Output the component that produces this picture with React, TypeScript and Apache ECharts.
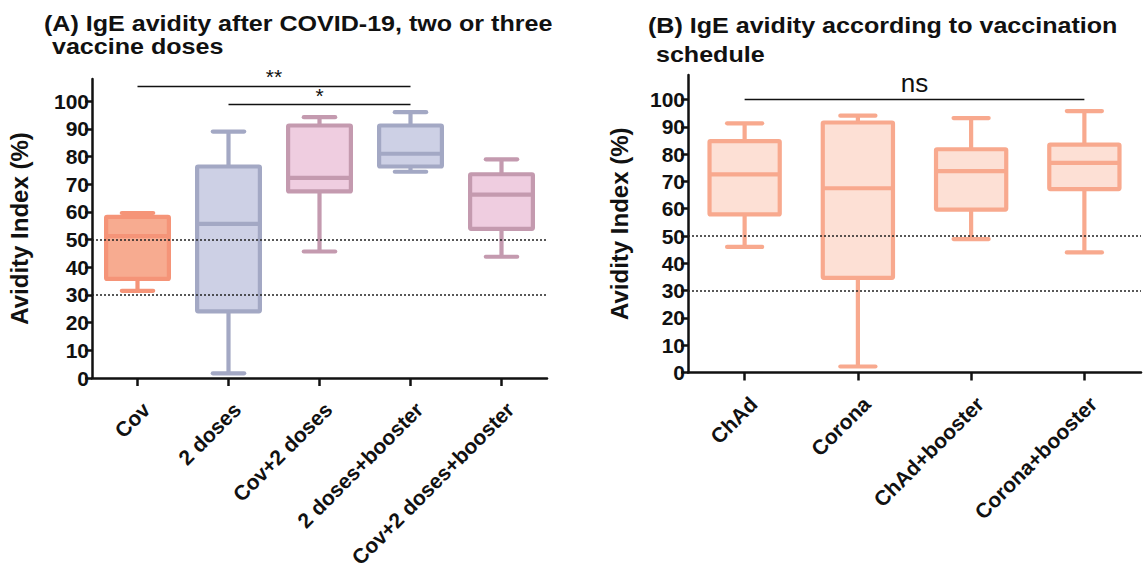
import React, { useEffect, useRef } from "react";
import * as echarts from "echarts";

// ---------- Data ----------
const catsA = ["Cov", "2 doses", "Cov+2 doses", "2 doses+booster", "Cov+2 doses+booster"];
const minA = [31.5, 1.7, 45.7, 74.5, 43.8];
const q1A = [35.8, 24.1, 67.4, 76.4, 53.9];
const medA = [51.3, 55.7, 72.3, 81.0, 66.2];
const q3A = [58.2, 76.4, 91.2, 91.2, 73.6];
const maxA = [59.6, 89.0, 94.2, 96.0, 79.0];
const strokeA = ["#f59478", "#a3a8c4", "#c49aaf", "#a3a8c4", "#c49aaf"];
const fillA = ["#f7ab90", "#cdd0e5", "#efcde0", "#cdd0e5", "#efcde0"];

const catsB = ["ChAd", "Corona", "ChAd+booster", "Corona+booster"];
const minB = [46.0, 2.2, 48.9, 44.0];
const q1B = [57.9, 34.7, 59.7, 67.2];
const medB = [72.6, 67.5, 73.8, 76.8];
const q3B = [84.8, 91.6, 81.8, 83.5];
const maxB = [91.3, 94.1, 93.2, 95.8];
const strokeB = ["#f8a98e", "#f8a98e", "#f8a98e", "#f8a98e"];
const fillB = ["#fde0d5", "#fde0d5", "#fde0d5", "#fde0d5"];

const yTicks = [0, 10, 20, 30, 40, 50, 60, 70, 80, 90, 100];
const thresholds = [30, 50];

const sigA = [
  { from: "Cov", to: "2 doses+booster", y: 105.5, label: "**" },
  { from: "2 doses", to: "2 doses+booster", y: 98.7, label: "*" },
];
const sigB = [{ from: "ChAd", to: "Corona+booster", y: 100.1, label: "ns" }];

const titleA1 = "(A) IgE avidity after COVID-19, two or three";
const titleA2 = " vaccine doses";
const titleB1 = "(B) IgE avidity according to vaccination";
const titleB2 = " schedule";
const yName = "Avidity Index (%)";

const FONT = '"Liberation Sans", Arial, Helvetica, sans-serif';
const INK = "#111111";

function makeRender(fills: string[], strokes: string[], ratio: number) {
  return (params: any, api: any) => {
    const i = api.value(0);
    const pMin = api.coord([i, api.value(1)]);
    const pQ1 = api.coord([i, api.value(2)]);
    const pMed = api.coord([i, api.value(3)]);
    const pQ3 = api.coord([i, api.value(4)]);
    const pMax = api.coord([i, api.value(5)]);
    const bw = api.size([1, 0])[0] * ratio;
    const cw = bw * 0.5;
    const x = pMed[0];
    const stroke = strokes[i];
    const fill = fills[i];
    const ls = { stroke, lineWidth: 4.2, lineCap: "round" };
    return {
      type: "group",
      children: [
        { type: "line", shape: { x1: x, y1: pQ3[1], x2: x, y2: pMax[1] }, style: { ...ls, lineCap: "butt" } },
        { type: "line", shape: { x1: x, y1: pQ1[1], x2: x, y2: pMin[1] }, style: { ...ls, lineCap: "butt" } },
        { type: "line", shape: { x1: x - cw / 2, y1: pMax[1], x2: x + cw / 2, y2: pMax[1] }, style: ls },
        { type: "line", shape: { x1: x - cw / 2, y1: pMin[1], x2: x + cw / 2, y2: pMin[1] }, style: ls },
        {
          type: "rect",
          shape: { x: x - bw / 2, y: pQ3[1], width: bw, height: pQ1[1] - pQ3[1], r: 1 },
          style: { fill, stroke, lineWidth: 4.2, lineJoin: "round" },
        },
        { type: "line", shape: { x1: x - bw / 2, y1: pMed[1], x2: x + bw / 2, y2: pMed[1] }, style: { stroke, lineWidth: 4.2 } },
      ],
    };
  };
}

function xAxisCfg(idx: number, cats: string[]) {
  return {
    type: "category",
    gridIndex: idx,
    data: cats,
    boundaryGap: true,
    axisLine: { show: true, lineStyle: { color: INK, width: 2.5 } },
    axisTick: { show: true, alignWithLabel: true, length: 8, lineStyle: { color: INK, width: 2.5 } },
    axisLabel: {
      interval: 0,
      rotate: 45,
      margin: 19,
      verticalAlign: "top",
      lineHeight: 25,
      color: INK,
      fontFamily: FONT,
      fontWeight: "bold",
      fontSize: 21,
    },
    splitLine: { show: false },
  };
}

function yAxisCfg(idx: number, max: number, gap: number) {
  return {
    type: "value",
    gridIndex: idx,
    min: 0,
    max,
    interval: 10,
    name: yName,
    nameLocation: "middle",
    nameGap: gap,
    nameTextStyle: { color: INK, fontFamily: FONT, fontWeight: "bold", fontSize: 24 },
    axisLine: { show: true, lineStyle: { color: INK, width: 2.5 } },
    axisTick: { show: true, length: 7, customValues: yTicks, lineStyle: { color: INK, width: 2.5 } },
    axisLabel: {
      customValues: yTicks,
      margin: 3,
      color: INK,
      fontFamily: FONT,
      fontWeight: "bold",
      fontSize: 21,
      formatter: (v: number) => (v > 100 ? "" : String(v)),
    },
    splitLine: { show: false },
  };
}

function thresholdSeries(idx: number) {
  return {
    type: "line",
    xAxisIndex: idx,
    yAxisIndex: idx,
    data: [],
    z: 1,
    silent: true,
    markLine: {
      silent: true,
      symbol: "none",
      label: { show: false },
      lineStyle: { color: "#222", width: 1.6, type: [2, 2] },
      data: thresholds.map((t) => ({ yAxis: t })),
    },
  };
}

function sigSeries(idx: number, sig: any[], fontSize: number, dist: number) {
  return {
    type: "line",
    xAxisIndex: idx,
    yAxisIndex: idx,
    data: [],
    z: 5,
    silent: true,
    markLine: {
      silent: true,
      symbol: "none",
      lineStyle: { color: INK, width: 1.3, type: "solid" },
      label: {
        show: true,
        position: "insideMiddleTop",
        distance: dist,
        color: INK,
        fontFamily: FONT,
        fontSize,
        formatter: (p: any) => p.name,
      },
      data: sig.map((s) => [
        { name: s.label, coord: [s.from, s.y] },
        { coord: [s.to, s.y] },
      ]),
    },
  };
}

function titleText(text: string, x: number, y: number) {
  return {
    type: "text",
    x,
    y,
    scaleX: 1.14,
    style: {
      text,
      fill: INK,
      font: `bold 22px ${FONT}`,
      verticalAlign: "middle",
      align: "left",
    },
  };
}

export default function App() {
  const ref = useRef<HTMLDivElement>(null);
  useEffect(() => {
    if (!ref.current) return;
    const chart = echarts.init(ref.current, null, { renderer: "svg" });
    chart.setOption({
      animation: false,
      backgroundColor: "#ffffff",
      grid: [
        { left: 92, top: 79, width: 455, height: 299, containLabel: false, outerBoundsMode: "none" },
        { left: 688, top: 75, width: 453, height: 297.5, containLabel: false, outerBoundsMode: "none" },
      ],
      xAxis: [xAxisCfg(0, catsA), xAxisCfg(1, catsB)],
      yAxis: [yAxisCfg(0, 108, 61), yAxisCfg(1, 109, 57)],
      graphic: [
        titleText(titleA1, 44, 24),
        titleText(titleA2, 45, 47),
        titleText(titleB1, 648, 26),
        titleText(titleB2, 649, 55),
      ],
      series: [
        thresholdSeries(0),
        thresholdSeries(1),
        {
          type: "custom",
          xAxisIndex: 0,
          yAxisIndex: 0,
          z: 3,
          renderItem: makeRender(fillA, strokeA, 0.69),
          encode: { x: 0, y: [1, 2, 3, 4, 5] },
          data: catsA.map((c, i) => [i, minA[i], q1A[i], medA[i], q3A[i], maxA[i]]),
        },
        {
          type: "custom",
          xAxisIndex: 1,
          yAxisIndex: 1,
          z: 3,
          renderItem: makeRender(fillB, strokeB, 0.62),
          encode: { x: 0, y: [1, 2, 3, 4, 5] },
          data: catsB.map((c, i) => [i, minB[i], q1B[i], medB[i], q3B[i], maxB[i]]),
        },
        sigSeries(0, sigA, 21, -1),
        sigSeries(1, sigB, 26, 3),
      ],
    });
    return () => chart.dispose();
  }, []);
  return (
    <div
      ref={ref}
      style={{ position: "fixed", left: 0, top: 0, width: 1147, height: 574, background: "#fff" }}
    />
  );
}
